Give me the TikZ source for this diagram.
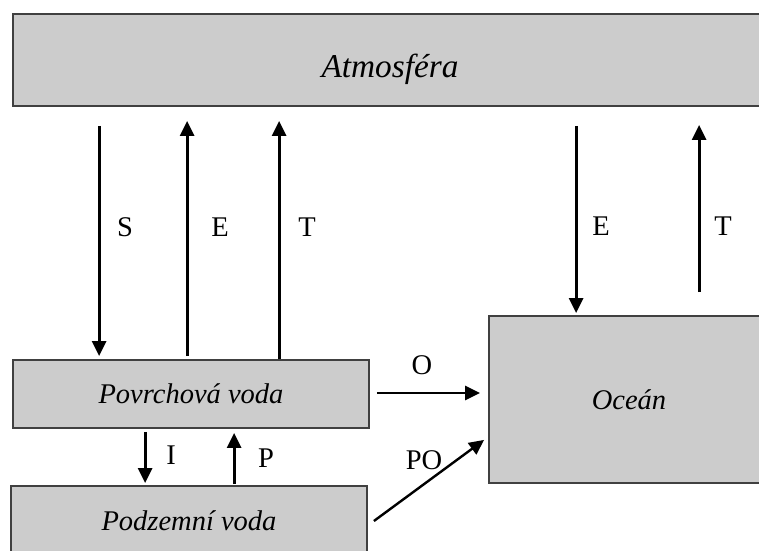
\documentclass[tikz,border=0pt]{standalone}
\usepackage{fontspec}
\setmainfont{Liberation Serif}
\usepackage{tikz}
\usetikzlibrary{arrows.meta}

\tikzset{
  box/.style={draw=black!75, line width=1.8pt, fill=black!20, inner sep=0pt, font=\fontsize{28.5}{34}\selectfont\itshape},
  flow/.style={line width=2.8pt, -{Triangle[length=15pt,width=14pt]}},
  lbl/.style={inner sep=0pt, font=\fontsize{28.5}{34}\selectfont}
}

\begin{document}
\begin{tikzpicture}[x=1pt, y=-1pt]
\clip (0,0) rectangle (759,550);
\node[box, minimum width=754pt, minimum height=92pt, text height=40pt, text depth=6pt, font=\fontsize{33.3}{40}\selectfont\itshape] (atm) at (390,60) {Atmosféra};
\node[box, minimum width=356pt, minimum height=68pt] (pov) at (191,394) {Povrchová voda};
\node[box, minimum width=356pt, minimum height=70pt] (pod) at (189,521) {Podzemní voda};
\node[box, minimum width=280pt, minimum height=167pt] (ocean) at (629,399.5) {Oceán};

\draw[flow] ([xshift=87pt,yshift=-19pt]atm.south west) -- ([xshift=87pt,yshift=3pt]pov.north west);
\draw[flow] ([xshift=175pt,yshift=3pt]pov.north west) -- ([xshift=175pt,yshift=-14pt]atm.south west);
\draw[flow] ([xshift=267pt]pov.north west) -- ([xshift=267pt,yshift=-14pt]atm.south west);
\draw[flow] ([xshift=564pt,yshift=-19pt]atm.south west) -- ([xshift=88pt,yshift=2pt]ocean.north west);
\draw[flow] ([xshift=211pt,yshift=23pt]ocean.north west) -- ([xshift=687pt,yshift=-18pt]atm.south west);
\draw[flow] ([xshift=7pt,yshift=1pt]pov.east) -- ([xshift=-8pt,yshift=6.5pt]ocean.west);
\draw[flow] ([xshift=133pt,yshift=-3pt]pov.south west) -- ([xshift=135pt,yshift=2pt]pod.north west);
\draw[flow] ([xshift=224pt,yshift=1pt]pod.north west) -- ([xshift=222pt,yshift=-4pt]pov.south west);
\draw[flow, line width=2.4pt] ([xshift=6pt]pod.east) -- ([xshift=-4pt,yshift=44pt]ocean.south west);

\node[lbl] (lblS) at (125,227) {S};
\node[lbl] (lblE) at (220,227) {E};
\node[lbl] (lblT) at (307,227) {T};
\node[lbl] (lblEo) at (601,226) {E};
\node[lbl] (lblTo) at (723,226) {T};
\node[lbl] (lblO) at (422,365) {O};
\node[lbl] (lblI) at (171,455) {I};
\node[lbl] (lblP) at (266,458) {P};
\node[lbl] (lblPO) at (424,460) {PO};
\end{tikzpicture}
\end{document}
